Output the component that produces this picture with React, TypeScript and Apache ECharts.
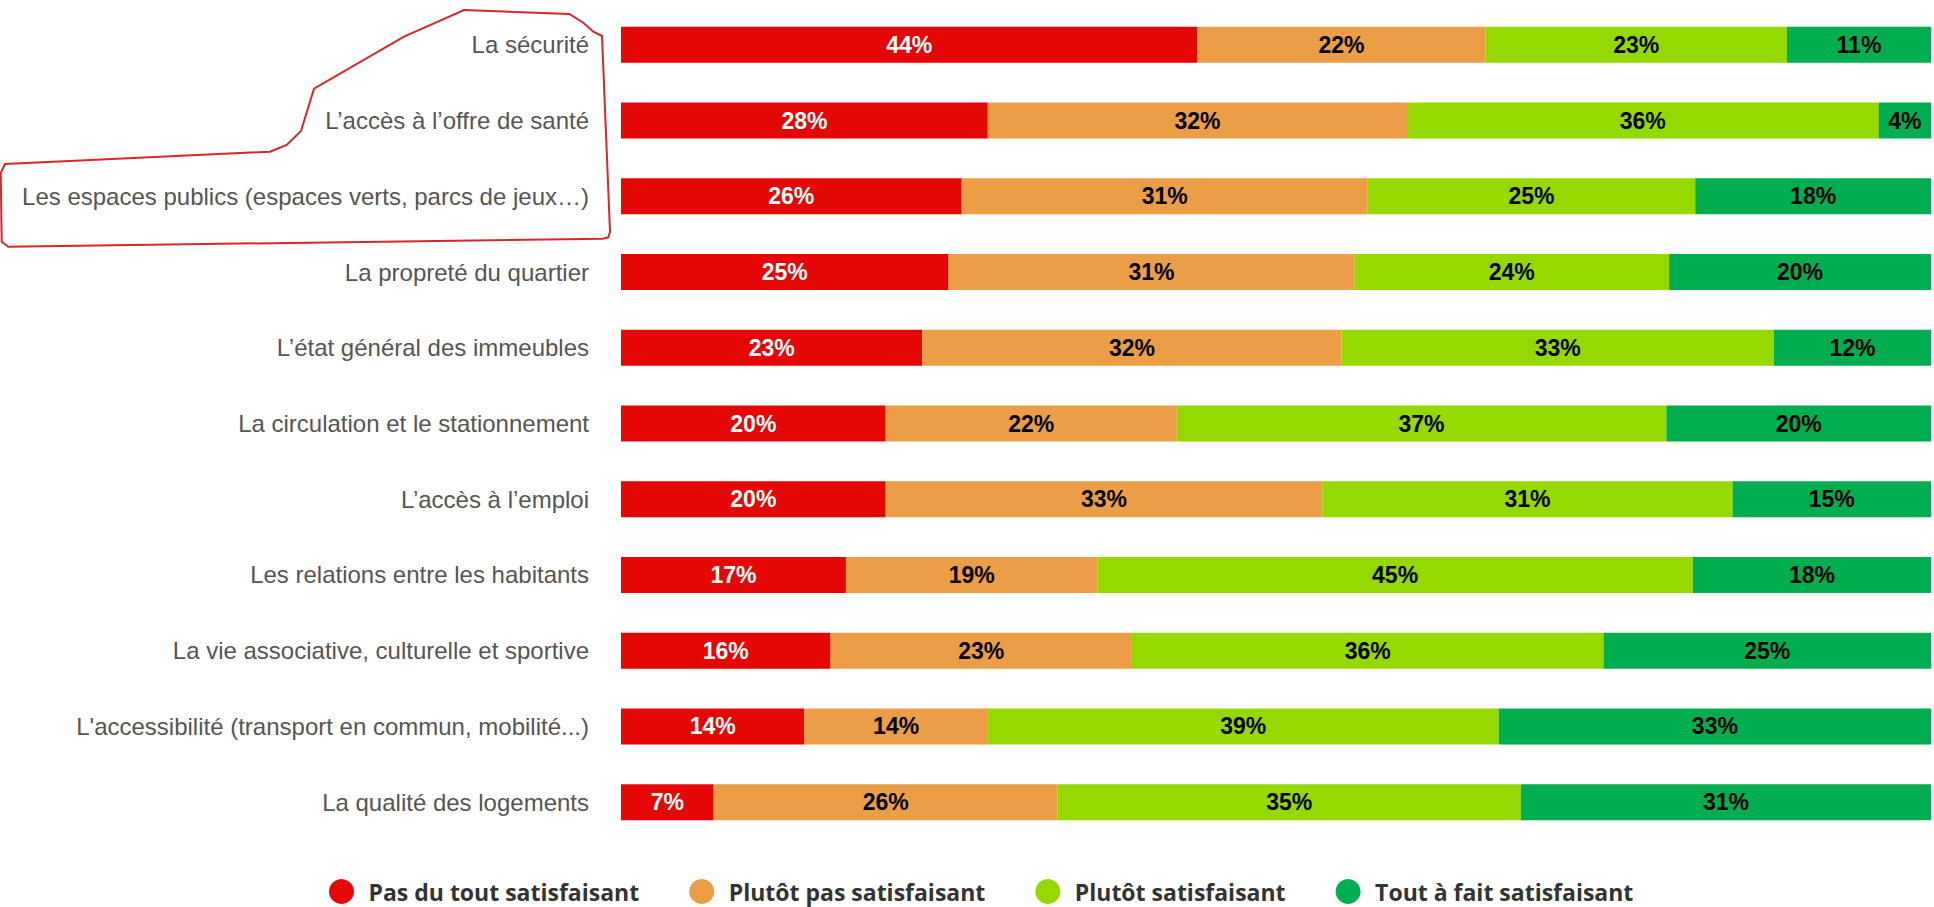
import React, { useEffect, useRef } from "react";
import * as echarts from "echarts";

const categories = [
  "La sécurité",
  "L’accès à l’offre de santé",
  "Les espaces publics (espaces verts, parcs de jeux…)",
  "La propreté du quartier",
  "L’état général des immeubles",
  "La circulation et le stationnement",
  "L’accès à l’emploi",
  "Les relations entre les habitants",
  "La vie associative, culturelle et sportive",
  "L'accessibilité (transport en commun, mobilité...)",
  "La qualité des logements",
];

const seriesNames = [
  "Pas du tout satisfaisant",
  "Plutôt pas satisfaisant",
  "Plutôt satisfaisant",
  "Tout à fait satisfaisant",
];

const pasDuTout = [44, 28, 26, 25, 23, 20, 20, 17, 16, 14, 7];
const plutotPas = [22, 32, 31, 31, 32, 22, 33, 19, 23, 14, 26];
const plutot = [23, 36, 25, 24, 33, 37, 31, 45, 36, 39, 35];
const toutAFait = [11, 4, 18, 20, 12, 20, 15, 18, 25, 33, 31];

const colors = ["#e50606", "#eb9e46", "#95d900", "#00ae4f"];
const labelColors = ["#ffffff", "#000000", "#000000", "#000000"];

// hand-drawn annotation outline (page pixels)
const outline = [
  [5, 164], [270, 151.7], [286.7, 145], [301, 131], [314, 88.7], [404, 36.7],
  [464, 10], [569.3, 14], [583.3, 22.7], [593.3, 31.7], [602, 36], [610, 231.7],
  [608.3, 237.3], [602.7, 238.7], [8.3, 246.7], [1.7, 241.7], [0.7, 173],
];

export default function App() {
  const ref = useRef<HTMLDivElement>(null);
  useEffect(() => {
    if (!ref.current) return;
    const chart = echarts.init(ref.current, null, { renderer: "svg" });
    const raw = [pasDuTout, plutotPas, plutot, toutAFait];
    const totals = categories.map((_, i) => raw.reduce((s, r) => s + r[i], 0));
    chart.setOption({
      animation: false,
      backgroundColor: "#ffffff",
      grid: { left: 621, right: 3, top: 7, height: 833, containLabel: false },
      xAxis: { type: "value", min: 0, max: 100, show: false },
      yAxis: {
        type: "category",
        data: categories,
        inverse: true,
        axisLine: { show: false },
        axisTick: { show: false },
        axisLabel: {
          margin: 32,
          color: "#555555",
          fontFamily: "Liberation Sans, Arial, sans-serif",
          fontSize: 24,
          padding: [12, 0, 0, 0],
        },
      },
      legend: {
        data: seriesNames,
        left: 329,
        top: 879,
        padding: 0,
        icon: "circle",
        itemWidth: 44,
        itemHeight: 25,
        itemGap: 50,
        textStyle: {
          color: "#333333",
          fontFamily: "Open Sans, sans-serif",
          fontWeight: "bold",
          fontSize: 23,
        },
      },
      graphic: [
        {
          type: "polygon",
          shape: { points: outline },
          style: { fill: "none", stroke: "#d8262c", lineWidth: 2 },
          silent: true,
        },
      ],
      series: raw.map((vals, si) => ({
        name: seriesNames[si],
        type: "bar",
        stack: "total",
        barWidth: 36,
        itemStyle: { color: colors[si] },
        data: vals.map((v, i) => (v / totals[i]) * 100),
        label: {
          show: true,
          position: "inside",
          color: labelColors[si],
          fontFamily: "Liberation Sans, Arial, sans-serif",
          fontWeight: "bold",
          fontSize: 23,
          padding: [3, 0, 0, 0],
          formatter: (p: any) => raw[si][p.dataIndex] + "%",
        },
      })),
    });
    return () => chart.dispose();
  }, []);
  return (
    <div
      ref={ref}
      style={{ position: "fixed", left: 0, top: 0, width: 1934, height: 907 }}
    />
  );
}
